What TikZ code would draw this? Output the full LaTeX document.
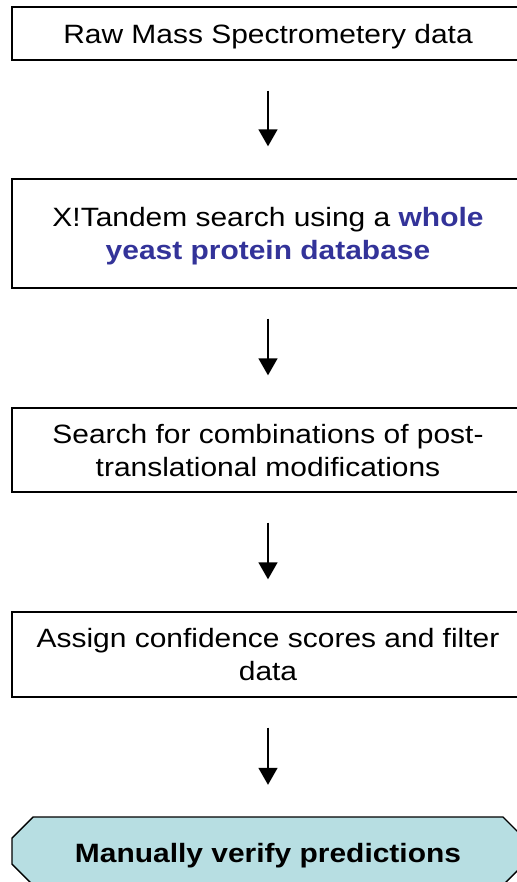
\documentclass[tikz,border=0pt]{standalone}
\usepackage{fontspec}
\setmainfont{Liberation Sans}[FakeStretch=1.13]
\usetikzlibrary{arrows.meta}
\definecolor{dbblue}{RGB}{51,51,153}
\definecolor{verifyfill}{RGB}{183,222,226}

\begin{document}
\begin{tikzpicture}[x=1bp,y=-1bp,
  every node/.style={font=\fontsize{26.6}{33}\selectfont, align=center},
  stepbox/.style={draw, line width=1.4bp, minimum width=512bp, inner sep=0pt,
    text depth=0pt},
  flow/.style={line width=1.5bp, -{Triangle[width=19bp,length=17bp]},
    shorten <=30bp, shorten >=32bp}]
  \useasboundingbox (0,0) rectangle (517,882);
  % the four steps
  \node[stepbox, minimum height=53bp] (raw) at (268,33.5) {Raw Mass Spectrometery data};
  \node[stepbox, minimum height=109bp] (tandem) at (268,233.5)
    {X!Tandem search using a \textcolor{dbblue}{\bfseries whole}\\
     \textcolor{dbblue}{\bfseries yeast protein database}};
  \node[stepbox, minimum height=84bp] (ptm) at (268,450)
    {Search for combinations of post-\\translational modifications};
  \node[stepbox, minimum height=85bp] (score) at (268,654.5)
    {Assign confidence scores and filter\\data};
  % last step: octagon with the corners cut off
  \filldraw[line width=1.4bp, fill=verifyfill]
    (33,817) -- (503,817) -- (524,838) -- (524,864) -- (503,885)
    -- (33,885) -- (12,864) -- (12,838) -- cycle;
  \node[minimum height=68bp, minimum width=512bp, inner sep=0pt] (verify) at (268,851) {};
  \node at (268,856) {\bfseries Manually verify predictions};
  \draw[flow] (raw) -- (tandem);
  \draw[flow] (tandem) -- (ptm);
  \draw[flow] (ptm) -- (score);
  \draw[flow] (score) -- (verify);
\end{tikzpicture}
\end{document}
